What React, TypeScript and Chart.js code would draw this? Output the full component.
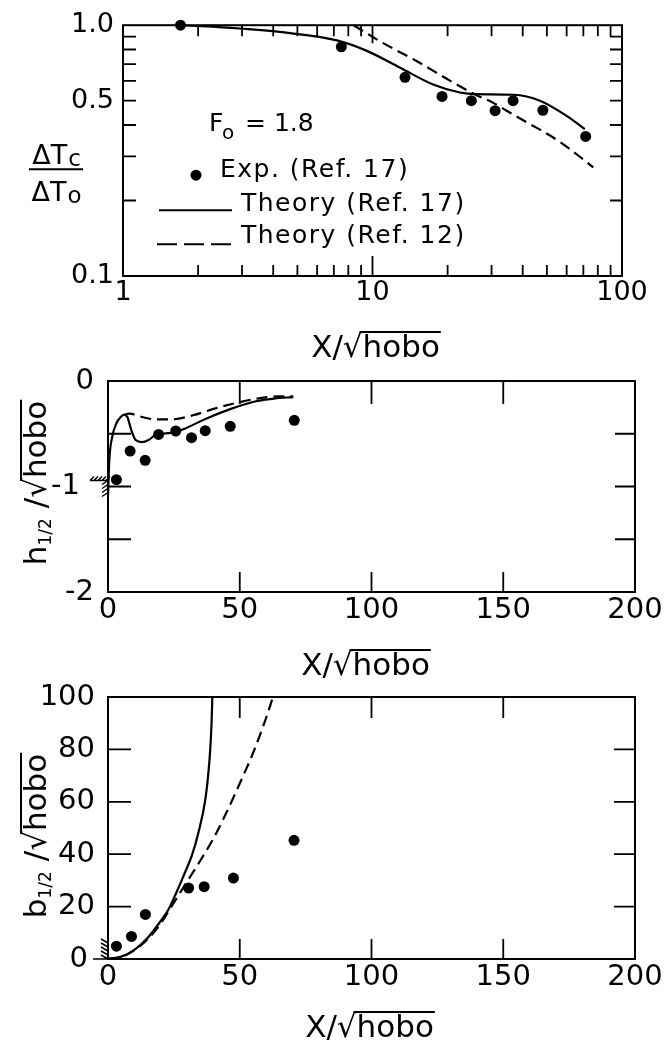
import React, { useEffect, useRef } from "react";
import { Chart, registerables } from "chart.js";

Chart.register(...registerables);

const FONT = "'DejaVu Sans', 'Liberation Sans', sans-serif";

// ---------------- Panel 1: ΔTc/ΔTo vs X/√hobo (log-log) ----------------
const p1ExpX = [1.7, 7.5, 13.5, 19.0, 24.9, 31.0, 36.6, 48.2, 71.5];
const p1ExpY = [1.0, 0.82, 0.62, 0.52, 0.5, 0.456, 0.5, 0.458, 0.36];
const p1Th17X = [1.72, 2.2, 2.94, 4.67, 7.2, 9.5, 12.9, 17.5, 22.4, 26.2, 36.7, 46.9, 60, 71];
const p1Th17Y = [1.0, 0.99, 0.97, 0.93, 0.87, 0.79, 0.677, 0.58, 0.539, 0.531, 0.528, 0.5, 0.435, 0.385];
const p1Th12X = [8.4, 11, 15, 20.5, 25.4, 30.5, 34.5, 41.5, 49.9, 58.2, 68.9, 76.7];
const p1Th12Y = [1.0, 0.85, 0.72, 0.6, 0.533, 0.49, 0.456, 0.41, 0.37, 0.335, 0.295, 0.271];

const p1XTickLabels = [1, 10, 100];
const p1YTickLabels = [0.1, 0.5, 1.0];
const p1XMinorMarks = [2, 3, 4, 5, 6, 7, 8, 9, 20, 30, 40, 50, 60, 70, 80, 90];
const p1XMajorMarks = [10];
const p1YMinorMarks = [0.2, 0.3, 0.4, 0.5, 0.6, 0.7, 0.8, 0.9];

// ---------------- Panel 2: h1/2/√hobo vs X/√hobo ----------------
const p2ExpX = [3.2, 8.4, 14.1, 19.2, 25.7, 31.7, 36.9, 46.4, 70.7];
const p2ExpY = [-0.935, -0.664, -0.752, -0.506, -0.474, -0.537, -0.471, -0.43, -0.373];
const p2Th17X = [0, 0.5, 1.6, 3.2, 4.9, 6.0, 7.3, 8.9, 10.5, 12.9, 15.4, 17.8, 21, 25.9, 29.1, 37.2, 46.9, 56.6, 63, 70.3];
const p2Th17Y = [-1.1, -0.75, -0.53, -0.4, -0.34, -0.32, -0.34, -0.47, -0.56, -0.58, -0.56, -0.515, -0.5, -0.483, -0.452, -0.357, -0.262, -0.19, -0.167, -0.152];
const p2Th12X = [6.0, 8.1, 12.9, 17.8, 24.3, 32.3, 40.4, 48.5, 56.6, 64.7, 70.3];
const p2Th12Y = [-0.32, -0.31, -0.341, -0.363, -0.363, -0.325, -0.262, -0.209, -0.167, -0.145, -0.145];

const p2XTickLabels = [0, 50, 100, 150, 200];
const p2YTickLabels = [0, -1, -2];
const p2XMarks = [50, 100, 150];
const p2YMarks = [-0.5, -1, -1.5];

// ---------------- Panel 3: b1/2/√hobo vs X/√hobo ----------------
const p3ExpX = [3.2, 8.9, 14.2, 30.6, 36.5, 47.6, 70.6];
const p3ExpY = [4.9, 8.6, 17.0, 27.1, 27.6, 30.9, 45.3];
const p3Th17X = [0, 5, 10, 15, 20, 23, 26, 29, 32, 34.5, 36.8, 38, 38.8, 39.3, 39.6];
const p3Th17Y = [0, 0.9, 3.5, 8, 14.5, 19, 25.5, 32.5, 40, 49, 60, 70, 80, 90, 100];
const p3Th12X = [0, 5, 10, 15, 20, 25, 30, 35, 40, 45, 50, 55, 60, 62.6];
const p3Th12Y = [0, 0.8, 3.3, 7.5, 13.5, 21.5, 29.5, 37.5, 46, 56, 67, 78.5, 92, 100];

const p3XTickLabels = [0, 50, 100, 150, 200];
const p3YTickLabels = [0, 20, 40, 60, 80, 100];
const p3XMarks = [50, 100, 150];
const p3YMarks = [20, 40, 60, 80];

// ---------------- Text ----------------
type Run = { t: string; size: number; dy?: number; over?: boolean };
const X_TITLE: Run[] = [
  { t: "X/\u221A", size: 31 },
  { t: "hobo", size: 31, over: true },
];
const H_TITLE: Run[] = [
  { t: "h", size: 31 },
  { t: "1/2", size: 17, dy: 5 },
  { t: " /\u221A", size: 31 },
  { t: "hobo", size: 31, over: true },
];
const B_TITLE: Run[] = [
  { t: "b", size: 31 },
  { t: "1/2", size: 17, dy: 5 },
  { t: " /\u221A", size: 31 },
  { t: "hobo", size: 31, over: true },
];
const LEGEND_EXP = "Exp. (Ref. 17)";
const LEGEND_T17 = "Theory (Ref. 17)";
const LEGEND_T12 = "Theory (Ref. 12)";

const pts = (xs: number[], ys: number[]) => xs.map((x, i) => ({ x, y: ys[i] }));

function drawRuns(ctx: any, runs: Run[], cx: number, base: number) {
  const ws = runs.map((r) => {
    ctx.font = `${r.size}px ${FONT}`;
    return ctx.measureText(r.t).width;
  });
  const total = ws.reduce((s, w) => s + w, 0);
  let x = cx - total / 2;
  ctx.textBaseline = "alphabetic";
  ctx.textAlign = "left";
  runs.forEach((r, i) => {
    ctx.font = `${r.size}px ${FONT}`;
    ctx.fillText(r.t, x, base + (r.dy || 0));
    if (r.over) {
      const asc = ctx.measureText("\u221A").actualBoundingBoxAscent;
      ctx.lineWidth = 2;
      ctx.beginPath();
      ctx.moveTo(x - 3, base - asc + 1);
      ctx.lineTo(x + ws[i] + 1, base - asc + 1);
      ctx.stroke();
    }
    x += ws[i];
  });
}

function datasets(ex: any[], solid: any[], dashed: any[]) {
  return [
    { data: ex, showLine: false, pointRadius: 5.5, pointBackgroundColor: "#000", pointBorderWidth: 0, clip: false },
    { data: solid, showLine: true, pointRadius: 0, borderColor: "#000", borderWidth: 2.2, cubicInterpolationMode: "monotone" },
    { data: dashed, showLine: true, pointRadius: 0, borderColor: "#000", borderWidth: 2.2, borderDash: [11, 6], cubicInterpolationMode: "monotone" },
  ];
}

function axis(o: any) {
  return {
    type: o.type,
    min: o.min,
    max: o.max,
    position: o.isX ? "bottom" : "left",
    grid: { display: false, drawTicks: false },
    border: { display: false },
    afterBuildTicks: (s: any) => {
      s.ticks = o.labels.map((v: number) => ({ value: v }));
    },
    ticks: {
      display: o.showTicks !== false,
      autoSkip: false,
      maxRotation: 0,
      minRotation: 0,
      padding: o.pad,
      color: "#000",
      font: { family: FONT, size: o.fontSize },
      callback: (v: any) => o.fmt(Number(v)),
    },
    title: { display: false },
    afterFit: (s: any) => {
      if (o.isX) s.height = o.fit;
      else s.width = o.fit;
    },
  };
}

function drawFrame(chart: any, xm: any[], ym: any[]) {
  const { ctx, chartArea: a, scales } = chart;
  ctx.save();
  ctx.strokeStyle = "#000";
  ctx.lineWidth = 2;
  ctx.strokeRect(a.left, a.top, a.right - a.left, a.bottom - a.top);
  ctx.lineWidth = 1.8;
  ctx.beginPath();
  for (const t of xm) {
    const px = scales.x.getPixelForValue(t.v);
    ctx.moveTo(px, a.bottom);
    ctx.lineTo(px, a.bottom - t.b);
    ctx.moveTo(px, a.top);
    ctx.lineTo(px, a.top + t.t);
  }
  for (const t of ym) {
    const py = scales.y.getPixelForValue(t.v);
    ctx.moveTo(a.left, py);
    ctx.lineTo(a.left + t.l, py);
    ctx.moveTo(a.right, py);
    ctx.lineTo(a.right - t.r, py);
  }
  ctx.stroke();
  ctx.restore();
}

function drawYLabels(chart: any, labels: number[], fmt: (v: number) => string, padFor: (v: number) => number) {
  const { ctx, scales, chartArea: a } = chart;
  ctx.save();
  ctx.fillStyle = "#000";
  ctx.font = `29px ${FONT}`;
  ctx.textAlign = "right";
  ctx.textBaseline = "middle";
  for (const v of labels) ctx.fillText(fmt(v), a.left - padFor(v), scales.y.getPixelForValue(v));
  ctx.restore();
}

function drawTitles(chart: any, xShift: number, xBase: number, yRuns: Run[] | null, yCenter: number) {
  const { ctx, chartArea: a } = chart;
  ctx.save();
  ctx.fillStyle = "#000";
  ctx.strokeStyle = "#000";
  drawRuns(ctx, X_TITLE, (a.left + a.right) / 2 + xShift, a.bottom + xBase);
  if (yRuns) {
    ctx.translate(46, a.top + yCenter);
    ctx.rotate(-Math.PI / 2);
    drawRuns(ctx, yRuns, 0, 0);
  }
  ctx.restore();
}

function baseOptions(padding: any, x: any, y: any) {
  return {
    responsive: false,
    animation: false,
    devicePixelRatio: 1,
    layout: { padding },
    plugins: { legend: { display: false }, tooltip: { enabled: false }, title: { display: false } },
    scales: { x, y },
  };
}

function config1(): any {
  const x = axis({
    type: "logarithmic", isX: true, min: 1, max: 100, labels: p1XTickLabels, fmt: (v: number) => String(v),
    pad: 1, fontSize: 27, fit: 89,
  });
  const y = axis({
    type: "logarithmic", isX: false, min: 0.1, max: 1, labels: p1YTickLabels,
    fmt: (v: number) => (v === 1 ? "1.0" : String(v)), pad: 9, fontSize: 27, fit: 123,
  });
  const xm = [
    ...p1XMinorMarks.map((v) => ({ v, b: 11, t: 11 })),
    ...p1XMajorMarks.map((v) => ({ v, b: 20, t: 18 })),
  ];
  const ym = p1YMinorMarks.map((v) => ({ v, l: 13, r: 12 }));
  return {
    type: "scatter",
    data: { datasets: datasets(pts(p1ExpX, p1ExpY), pts(p1Th17X, p1Th17Y), pts(p1Th12X, p1Th12Y)) },
    options: baseOptions({ left: 0, right: 47, top: 24, bottom: 0 }, x, y),
    plugins: [
      {
        id: "deco1",
        afterDraw(chart: any) {
          drawFrame(chart, xm, ym);
          drawTitles(chart, 3, 81, null, 0);
          const { ctx, chartArea: a } = chart;
          ctx.save();
          ctx.fillStyle = "#000";
          ctx.strokeStyle = "#000";
          ctx.textAlign = "left";
          // y-axis fraction title
          const cx = a.left - 67;
          const frac = (main: string, sub: string, base: number) => {
            ctx.font = `27px ${FONT}`;
            const w1 = ctx.measureText(main).width;
            ctx.font = `23px ${FONT}`;
            const w2 = ctx.measureText(sub).width;
            const sx = cx - (w1 + w2) / 2;
            ctx.textBaseline = "alphabetic";
            ctx.font = `27px ${FONT}`;
            ctx.fillText(main, sx, base);
            ctx.font = `23px ${FONT}`;
            ctx.fillText(sub, sx + w1 + 1, base + 2);
          };
          frac("\u0394T", "c", a.top + 139);
          frac("\u0394T", "o", a.top + 176);
          ctx.lineWidth = 2;
          ctx.beginPath();
          ctx.moveTo(cx - 27, a.top + 144);
          ctx.lineTo(cx + 27, a.top + 144);
          ctx.stroke();
          // F0 = 1.8
          ctx.textBaseline = "alphabetic";
          ctx.font = `25px ${FONT}`;
          ctx.fillText("F", a.left + 86, a.top + 106);
          ctx.font = `20px ${FONT}`;
          ctx.fillText("o", a.left + 99, a.top + 114);
          ctx.font = `25px ${FONT}`;
          ctx.fillText("= 1.8", a.left + 122, a.top + 106);
          // legend
          ctx.textBaseline = "middle";
          ctx.font = `25px ${FONT}`;
          (ctx as any).letterSpacing = "1.5px";
          ctx.beginPath();
          ctx.arc(a.left + 73, a.top + 150, 5.5, 0, Math.PI * 2);
          ctx.fill();
          ctx.fillText(LEGEND_EXP, a.left + 97, a.top + 145);
          ctx.beginPath();
          ctx.moveTo(a.left + 36, a.top + 185);
          ctx.lineTo(a.left + 109, a.top + 185);
          ctx.stroke();
          ctx.fillText(LEGEND_T17, a.left + 118, a.top + 179);
          ctx.setLineDash([20, 7]);
          ctx.beginPath();
          ctx.moveTo(a.left + 34, a.top + 219);
          ctx.lineTo(a.left + 109, a.top + 219);
          ctx.stroke();
          ctx.setLineDash([]);
          ctx.fillText(LEGEND_T12, a.left + 118, a.top + 211);
          (ctx as any).letterSpacing = "0px";
          ctx.restore();
        },
      },
    ],
  };
}

const fmtSigned = (v: number) => String(v);

function config2(): any {
  const x = axis({
    type: "linear", isX: true, min: 0, max: 200, labels: p2XTickLabels, fmt: (v: number) => String(v),
    pad: 1.5, fontSize: 29, fit: 88,
  });
  const y = axis({
    type: "linear", isX: false, min: -2, max: 0, labels: p2YTickLabels,
    fmt: fmtSigned, pad: 15, fontSize: 29, fit: 108, showTicks: false,
  });
  const xm = p2XMarks.map((v) => ({ v, b: 20, t: 23 }));
  const ym = p2YMarks.map((v) => ({ v, l: 23, r: 20 }));
  return {
    type: "scatter",
    data: { datasets: datasets(pts(p2ExpX, p2ExpY), pts(p2Th17X, p2Th17Y), pts(p2Th12X, p2Th12Y)) },
    options: baseOptions({ left: 0, right: 34, top: 16, bottom: 0 }, x, y),
    plugins: [
      {
        id: "deco2",
        afterDraw(chart: any) {
          drawFrame(chart, xm, ym);
          drawTitles(chart, -6, 83, H_TITLE, 102);
          // y tick labels (the -1 label sits left of the nozzle hatch)
          drawYLabels(chart, p2YTickLabels, fmtSigned, (v) => (v === -1 ? 28 : 14));
          const { ctx, scales } = chart;
          const x0 = scales.x.getPixelForValue(0);
          const y1 = scales.y.getPixelForValue(-1);
          ctx.save();
          ctx.strokeStyle = "#000";
          ctx.lineWidth = 1.5;
          ctx.beginPath();
          ctx.moveTo(x0 - 18, y1 - 6);
          ctx.lineTo(x0, y1 - 6);
          for (let k = 0; k < 5; k++) {
            ctx.moveTo(x0 - 18 + k * 4, y1 - 6);
            ctx.lineTo(x0 - 14 + k * 4, y1 - 10);
          }
          for (let k = 0; k < 4; k++) {
            ctx.moveTo(x0 - 6, y1 - 2 + k * 4);
            ctx.lineTo(x0, y1 - 6 + k * 4);
          }
          ctx.stroke();
          ctx.restore();
        },
      },
    ],
  };
}

function config3(): any {
  const x = axis({
    type: "linear", isX: true, min: 0, max: 200, labels: p3XTickLabels, fmt: (v: number) => String(v),
    pad: 0.6, fontSize: 29, fit: 86,
  });
  const y = axis({
    type: "linear", isX: false, min: 0, max: 100, labels: p3YTickLabels, fmt: (v: number) => String(v),
    pad: 15, fontSize: 29, fit: 108, showTicks: false,
  });
  const xm = p3XMarks.map((v) => ({ v, b: 20, t: 21 }));
  const ym = p3YMarks.map((v) => ({ v, l: 23, r: 21 }));
  return {
    type: "scatter",
    data: { datasets: datasets(pts(p3ExpX, p3ExpY), pts(p3Th17X, p3Th17Y), pts(p3Th12X, p3Th12Y)) },
    options: baseOptions({ left: 0, right: 34, top: 17, bottom: 0 }, x, y),
    plugins: [
      {
        id: "deco3",
        afterDraw(chart: any) {
          drawFrame(chart, xm, ym);
          drawTitles(chart, -2, 78, B_TITLE, 139);
          drawYLabels(chart, p3YTickLabels, (v) => String(v), (v) => (v === 0 ? 20 : 13));
          const { ctx, scales } = chart;
          const x0 = scales.x.getPixelForValue(0);
          const y0 = scales.y.getPixelForValue(0);
          ctx.save();
          ctx.strokeStyle = "#000";
          ctx.lineWidth = 1.5;
          ctx.beginPath();
          ctx.moveTo(x0 - 15, y0);
          ctx.lineTo(x0, y0);
          for (let k = 0; k < 5; k++) {
            ctx.moveTo(x0 - 7, y0 - 4 - k * 4);
            ctx.lineTo(x0, y0 - k * 4);
          }
          ctx.stroke();
          ctx.restore();
        },
      },
    ],
  };
}

function Panel({ top, height, build }: { top: number; height: number; build: () => any }) {
  const ref = useRef<HTMLCanvasElement>(null);
  useEffect(() => {
    const chart = new Chart(ref.current as HTMLCanvasElement, build());
    return () => chart.destroy();
  }, []);
  return (
    <canvas
      ref={ref}
      width={669}
      height={height}
      style={{ position: "absolute", left: 0, top, width: 669, height, display: "block" }}
    />
  );
}

export default function App() {
  return (
    <div style={{ position: "absolute", left: 0, top: 0, width: 669, height: 1045, background: "#fff" }}>
      <Panel top={0} height={365} build={config1} />
      <Panel top={365} height={315} build={config2} />
      <Panel top={680} height={365} build={config3} />
    </div>
  );
}
